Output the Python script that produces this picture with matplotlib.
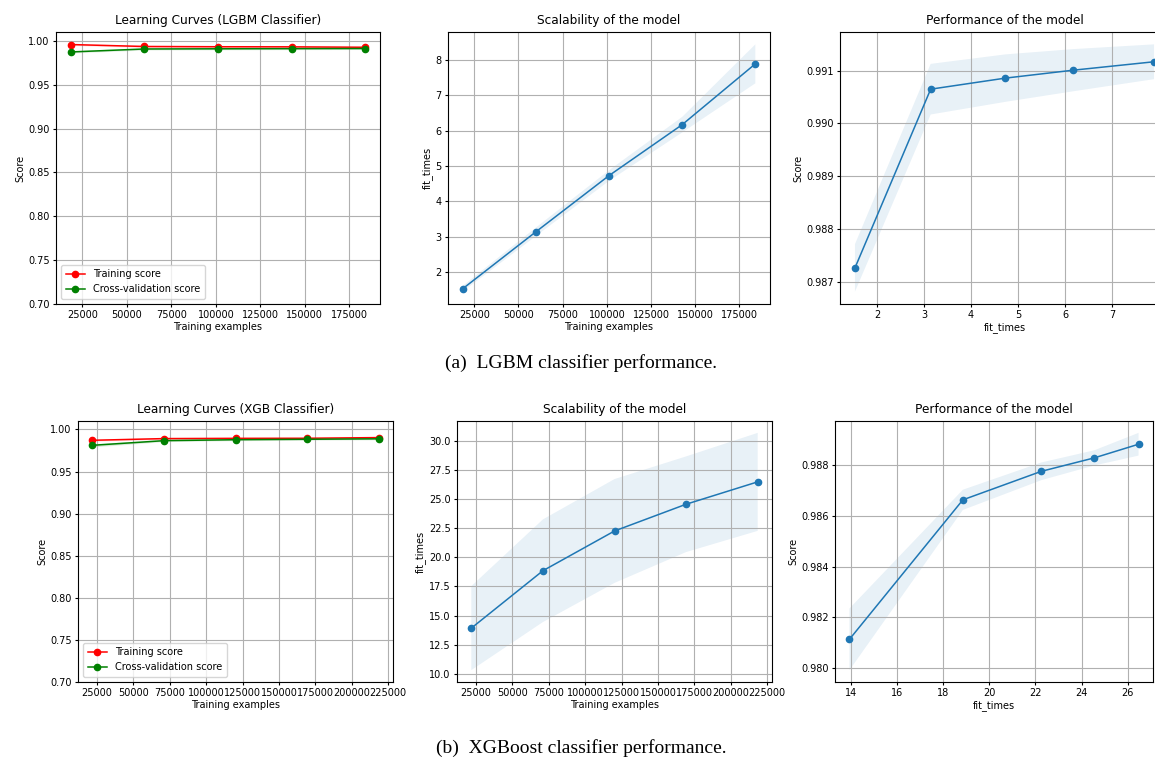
from matplotlib import pyplot as plt
import numpy as np

# LGBM row
lgbm_sizes = [18400, 59800, 101200, 142600, 184000]
lgbm_train = [0.9957, 0.9935, 0.9932, 0.9931, 0.9926]
lgbm_train_std = [0.0004, 0.0003, 0.0002, 0.0002, 0.0002]
lgbm_test = [0.98726, 0.99065, 0.99086, 0.99101, 0.99117]
lgbm_test_std = [0.00045, 0.00048, 0.00045, 0.0004, 0.00033]
lgbm_fit = [1.53, 3.14, 4.73, 6.17, 7.89]
lgbm_fit_std = [0.08, 0.12, 0.15, 0.22, 0.55]

# XGB row
xgb_sizes = [21850, 71000, 120200, 169300, 218500]
xgb_train = [0.9871, 0.9891, 0.9894, 0.9895, 0.9903]
xgb_train_std = [0.0004, 0.0003, 0.0002, 0.0002, 0.0002]
xgb_test = [0.98112, 0.98664, 0.98777, 0.98830, 0.98884]
xgb_test_std = [0.00122, 0.0004, 0.00035, 0.0003, 0.00045]
xgb_fit = [13.93, 18.85, 22.26, 24.55, 26.47]
xgb_fit_std = [3.6, 4.4, 4.45, 4.1, 4.2]

FS = 7
TFS = 8.7


def style(ax, title, xlabel, ylabel):
    ax.set_title(title, fontsize=TFS)
    ax.set_xlabel(xlabel, fontsize=FS, labelpad=1)
    ax.set_ylabel(ylabel, fontsize=FS, labelpad=2)
    ax.tick_params(labelsize=FS, length=2.5, pad=2)
    ax.grid(True)


def plot_row(fig, boxes, name, sizes, train, train_std, test, test_std, fit, fit_std):
    sizes = np.array(sizes)
    train, train_std = np.array(train), np.array(train_std)
    test, test_std = np.array(test), np.array(test_std)
    fit, fit_std = np.array(fit), np.array(fit_std)

    ax1 = fig.add_axes(boxes[0])
    ax1.fill_between(sizes, train - train_std, train + train_std, alpha=0.1, color="r")
    ax1.fill_between(sizes, test - test_std, test + test_std, alpha=0.1, color="g")
    ax1.plot(sizes, train, "o-", color="r", label="Training score", lw=1.1, ms=4.5)
    ax1.plot(sizes, test, "o-", color="g", label="Cross-validation score", lw=1.1, ms=4.5)
    ax1.set_ylim(0.7, 1.01)
    style(ax1, "Learning Curves (%s Classifier)" % name, "Training examples", "Score")
    ax1.legend(loc="lower left", fontsize=FS, handlelength=2.0, borderpad=0.5)

    ax2 = fig.add_axes(boxes[1])
    ax2.fill_between(sizes, fit - fit_std, fit + fit_std, alpha=0.1)
    ax2.plot(sizes, fit, "o-", lw=1.1, ms=4.5)
    style(ax2, "Scalability of the model", "Training examples", "fit_times")

    ax3 = fig.add_axes(boxes[2])
    ax3.fill_between(fit, test - test_std, test + test_std, alpha=0.1)
    ax3.plot(fit, test, "o-", lw=1.1, ms=4.5)
    style(ax3, "Performance of the model", "fit_times", "Score")
    return ax1, ax2, ax3


def box(x0, x1, top, bottom, W=1155, H=762):
    return [x0 / W, 1 - bottom / H, (x1 - x0) / W, (bottom - top) / H]


fig = plt.figure(figsize=(11.55, 7.62), dpi=100)

top_boxes = [box(56, 380, 32, 304), box(448, 770, 32, 304), box(840, 1169, 32, 304)]
bot_boxes = [box(78, 393, 421, 682), box(457, 772, 421, 682), box(835, 1153, 421, 682)]

plot_row(fig, top_boxes, "LGBM", lgbm_sizes, lgbm_train, lgbm_train_std,
         lgbm_test, lgbm_test_std, lgbm_fit, lgbm_fit_std)
plot_row(fig, bot_boxes, "XGB", xgb_sizes, xgb_train, xgb_train_std,
         xgb_test, xgb_test_std, xgb_fit, xgb_fit_std)

fig.text(581 / 1155, 1 - 363 / 762, "(a)  LGBM classifier performance.",
         ha="center", va="center", fontsize=14, family="Liberation Serif")
fig.text(581 / 1155, 1 - 748 / 762, "(b)  XGBoost classifier performance.",
         ha="center", va="center", fontsize=14, family="Liberation Serif")

plt.savefig("out.png", dpi=100)
